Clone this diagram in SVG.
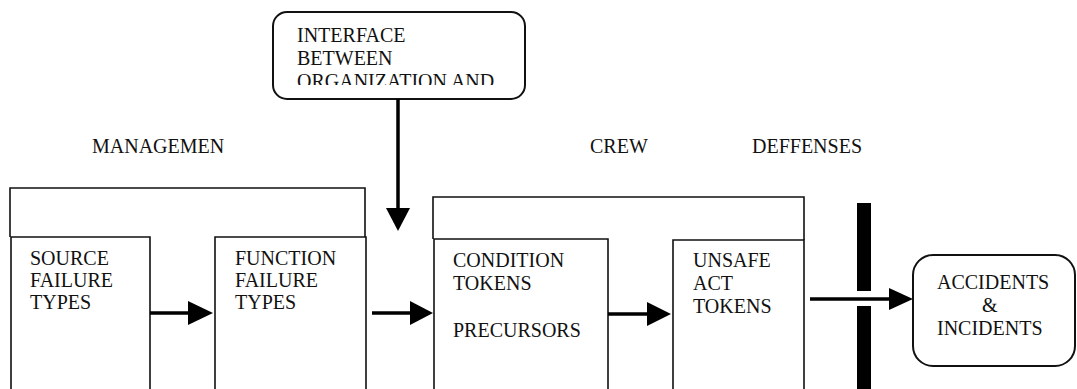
<svg xmlns="http://www.w3.org/2000/svg" width="1077" height="389" viewBox="0 0 1077 389" font-family="'Liberation Serif', serif">
<style>
text{font-family:'Liberation Serif', serif;font-size:20px;fill:#111}
.box{fill:none;stroke:#111;stroke-width:1.6}
.rbox{fill:#fff;stroke:#111;stroke-width:2}
.conn{stroke:#000;stroke-width:3.5;fill:none}
.head{fill:#000}
</style>
<defs>
<clipPath id="ifclip"><rect x="275" y="14" width="248" height="71"/></clipPath>
</defs>
<rect width="1077" height="389" fill="#fff"/>
<g id="labels">
<text x="92" y="153">MANAGEMEN</text>
<text x="590" y="153">CREW</text>
<text x="752" y="153">DEFFENSES</text>
</g>
<g id="interface">
<rect class="rbox" x="273" y="12" width="252" height="87" rx="14"/>
<g clip-path="url(#ifclip)">
<text x="297" y="42">INTERFACE</text>
<text x="297" y="65">BETWEEN</text>
<text x="297" y="88">ORGANIZATION AND</text>
</g>
</g>
<g id="management">
<path class="box" d="M10,237 V188 H365 V237"/>
</g>
<g id="source">
<path class="box" d="M11,389 V237 H150 V389"/>
<text x="30" y="265">SOURCE</text>
<text x="30" y="287">FAILURE</text>
<text x="30" y="309">TYPES</text>
</g>
<g id="function">
<path class="box" d="M215,389 V237 H366 V389"/>
<text x="235" y="265">FUNCTION</text>
<text x="235" y="287">FAILURE</text>
<text x="235" y="309">TYPES</text>
</g>
<g id="crew">
<path class="box" d="M433,239 V197 H804 V240"/>
</g>
<g id="condition">
<path class="box" d="M434,389 V239 H608 V389"/>
<text x="453" y="267">CONDITION</text>
<text x="453" y="290">TOKENS</text>
<text x="453" y="337">PRECURSORS</text>
</g>
<g id="unsafe">
<path class="box" d="M673,389 V240 H804 V389"/>
<text x="693" y="267">UNSAFE</text>
<text x="693" y="290">ACT</text>
<text x="693" y="313">TOKENS</text>
</g>
<g id="defenses">
<rect x="857" y="203" width="14" height="88" fill="#000"/>
<rect x="857" y="306" width="14" height="83" fill="#000"/>
</g>
<g id="accidents">
<rect class="rbox" x="913" y="255" width="162" height="111" rx="20"/>
<text x="937" y="289">ACCIDENTS</text>
<text x="982" y="312">&amp;</text>
<text x="937" y="335">INCIDENTS</text>
</g>
<g id="connectors">
<line class="conn" x1="398" y1="99" x2="398" y2="210"/>
<polygon class="head" points="386,208 410,208 398,231"/>
<line class="conn" x1="150" y1="313" x2="190" y2="313"/>
<polygon class="head" points="188,301 188,325 213,313"/>
<line class="conn" x1="372" y1="313" x2="412" y2="313"/>
<polygon class="head" points="410,301 410,325 433,313"/>
<line class="conn" x1="608" y1="314" x2="649" y2="314"/>
<polygon class="head" points="647,302 647,326 671,314"/>
<line class="conn" x1="810" y1="299" x2="891" y2="299"/>
<polygon class="head" points="889,288 889,310 913,299"/>
</g>
</svg>
